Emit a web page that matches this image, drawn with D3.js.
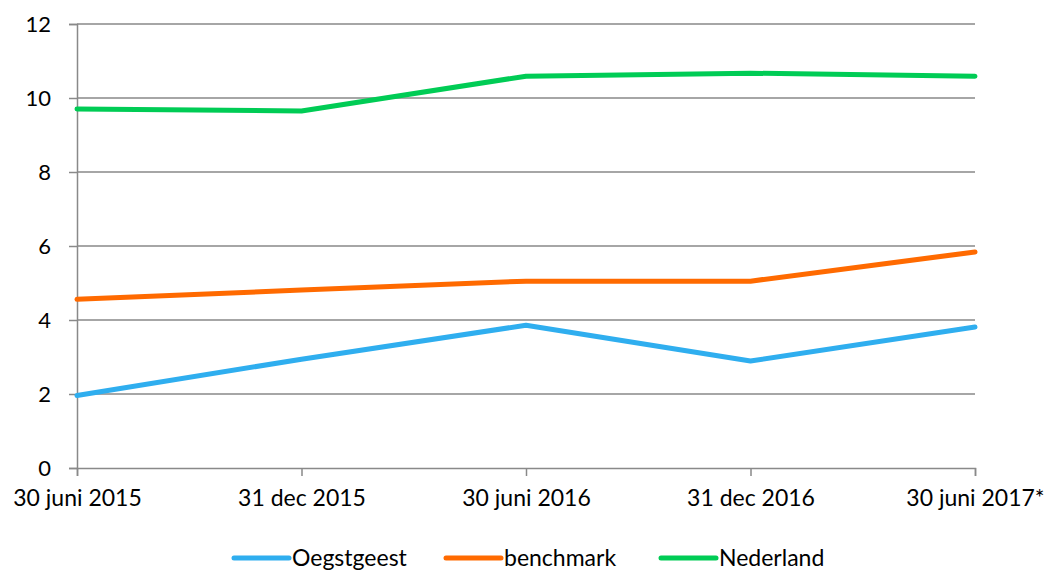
<!DOCTYPE html>
<html>
<head>
<meta charset="utf-8">
<script src="https://cdn.jsdelivr.net/npm/d3@7"></script>
<style>
  html, body { margin: 0; padding: 0; background: #fff; }
  svg text { font-family: Lato, "Open Sans", sans-serif; fill: #000; }
</style>
</head>
<body>
<svg id="chart" width="1050" height="572"></svg>
<script>
// Peildata on the x axis
const categories = ["30 juni 2015", "31 dec 2015", "30 juni 2016", "31 dec 2016", "30 juni 2017*"];
// Series values per peildatum
const oegstgeest = [1.96, 2.94, 3.86, 2.89, 3.81];
const benchmark  = [4.56, 4.81, 5.05, 5.05, 5.84];
const nederland  = [9.70, 9.65, 10.59, 10.67, 10.59];
const seriesNames = ["Oegstgeest", "benchmark", "Nederland"];
const yTicks = [0, 2, 4, 6, 8, 10, 12];

const series = [
  { name: seriesNames[0], values: oegstgeest, color: "#2FAEEF" },
  { name: seriesNames[1], values: benchmark,  color: "#FF6A00" },
  { name: seriesNames[2], values: nederland,  color: "#00CC55" }
];

const svg = d3.select("#chart");
const plot = { left: 77, right: 975, top: 24, bottom: 468 };

const x = d3.scalePoint().domain(categories).range([plot.left, plot.right]);
const y = d3.scaleLinear().domain([0, 12]).range([plot.bottom, plot.top]);

const gridColor = "#898989";

// Horizontal gridlines
svg.append("g")
  .selectAll("line")
  .data(yTicks.filter(d => d > 0))
  .join("line")
  .attr("x1", plot.left).attr("x2", plot.right)
  .attr("y1", d => y(d)).attr("y2", d => y(d))
  .attr("stroke", gridColor).attr("stroke-width", 1.5);

// Y axis
const yAxis = svg.append("g")
  .attr("transform", `translate(${plot.left},0)`)
  .call(d3.axisLeft(y).tickValues(yTicks).tickSize(8).tickPadding(18).tickFormat(d3.format("d")));
yAxis.select(".domain").attr("stroke", gridColor).attr("stroke-width", 1.5);
yAxis.selectAll(".tick line").attr("stroke", gridColor).attr("stroke-width", 1.5);
yAxis.selectAll(".tick text").attr("font-size", 22).attr("font-family", "Lato, sans-serif");

// X axis
const xAxis = svg.append("g")
  .attr("transform", `translate(0,${plot.bottom})`)
  .call(d3.axisBottom(x).tickSize(8).tickPadding(14));
xAxis.select(".domain").attr("stroke", gridColor).attr("stroke-width", 1.5);
xAxis.selectAll(".tick line").attr("stroke", gridColor).attr("stroke-width", 1.5);
xAxis.selectAll(".tick text").attr("font-size", 23).attr("font-family", "Lato, sans-serif");

// Series lines
const line = d3.line().x((d, i) => x(categories[i])).y(d => y(d));
svg.append("g")
  .selectAll("path")
  .data(series)
  .join("path")
  .attr("d", d => line(d.values))
  .attr("fill", "none")
  .attr("stroke", d => d.color)
  .attr("stroke-width", 5)
  .attr("stroke-linejoin", "round")
  .attr("stroke-linecap", "round");

// Legend
const legendPos = [234, 446, 661];
const legend = svg.append("g").attr("transform", "translate(0,558)");
const items = legend.selectAll("g")
  .data(series)
  .join("g")
  .attr("transform", (d, i) => `translate(${legendPos[i]},0)`);
items.append("line")
  .attr("x1", 0).attr("x2", 55)
  .attr("y1", 0).attr("y2", 0)
  .attr("stroke", d => d.color)
  .attr("stroke-width", 5)
  .attr("stroke-linecap", "round");
items.append("text")
  .attr("x", 58).attr("y", 0)
  .attr("dy", "0.35em")
  .attr("font-size", 23)
  .text(d => d.name);
</script>
</body>
</html>
